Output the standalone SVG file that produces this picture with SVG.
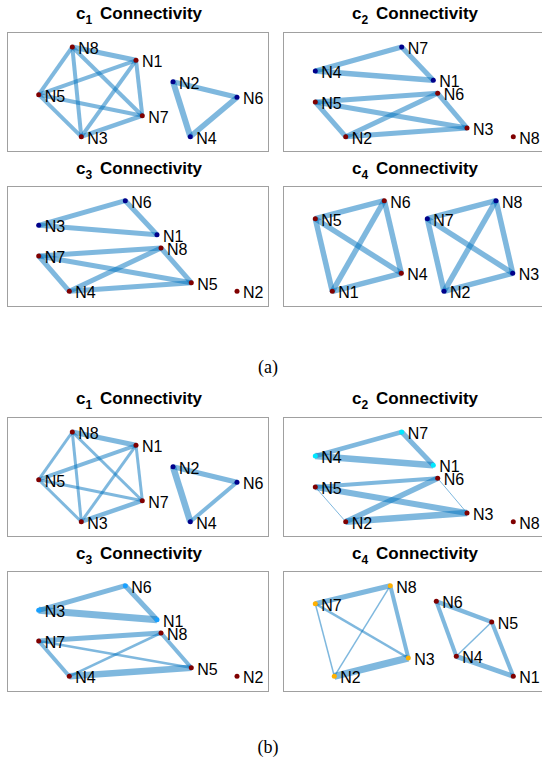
<svg xmlns="http://www.w3.org/2000/svg" width="542" height="767" viewBox="0 0 542 767">
<style>
text{font-family:"Liberation Sans",Arial,sans-serif;fill:#000}
.t{font-size:17px;font-weight:bold}
.s{font-size:12px}
.l{font-size:16px}
.box{fill:#fff;stroke:#a0a0a0;stroke-width:1}
.e{stroke:#0072BD;stroke-opacity:0.5;fill:none}
.r{fill:#800000}.b{fill:#00008a}.c{fill:#00e8ff}.d{fill:#18a0ff}.o{fill:#ffb000}
.cap{font-family:"Liberation Serif","Times New Roman",serif;font-size:18px;text-anchor:middle}
</style>
<rect width="542" height="767" fill="#fff"/>

<!-- ===== (a) c1 ===== -->
<g id="a-c1">
<rect class="box" x="7.5" y="32.5" width="261" height="119"/>
<text class="t" x="76" y="19">c<tspan class="s" dy="5">1</tspan><tspan x="100" dy="-5">Connectivity</tspan></text>
<g id="a-c1-edges">
<line class="e" stroke-width="5" x1="72.3" y1="47" x2="136" y2="60.3"/>
<line class="e" stroke-width="4" x1="72.3" y1="47" x2="38.7" y2="94.7"/>
<line class="e" stroke-width="4" x1="72.3" y1="47" x2="81.3" y2="136.7"/>
<line class="e" stroke-width="4" x1="72.3" y1="47" x2="142.3" y2="115.7"/>
<line class="e" stroke-width="4" x1="136" y1="60.3" x2="38.7" y2="94.7"/>
<line class="e" stroke-width="4" x1="136" y1="60.3" x2="81.3" y2="136.7"/>
<line class="e" stroke-width="4" x1="136" y1="60.3" x2="142.3" y2="115.7"/>
<line class="e" stroke-width="4" x1="38.7" y1="94.7" x2="142.3" y2="115.7"/>
<line class="e" stroke-width="4" x1="38.7" y1="94.7" x2="81.3" y2="136.7"/>
<line class="e" stroke-width="4.5" x1="81.3" y1="136.7" x2="142.3" y2="115.7"/>
<line class="e" stroke-width="6" x1="173" y1="81.7" x2="190.3" y2="136.7"/>
<line class="e" stroke-width="5" x1="173" y1="81.7" x2="237" y2="97.3"/>
<line class="e" stroke-width="5.5" x1="190.3" y1="136.7" x2="237" y2="97.3"/>
</g>
<g id="a-c1-N8"><circle class="r" cx="72.3" cy="47" r="2.5"/><text class="l" x="78.3" y="54">N8</text></g>
<g id="a-c1-N1"><circle class="r" cx="136" cy="60.3" r="2.5"/><text class="l" x="142" y="67.3">N1</text></g>
<g id="a-c1-N5"><circle class="r" cx="38.7" cy="94.7" r="2.5"/><text class="l" x="44.7" y="101.7">N5</text></g>
<g id="a-c1-N7"><circle class="r" cx="142.3" cy="115.7" r="2.5"/><text class="l" x="148.3" y="122.7">N7</text></g>
<g id="a-c1-N3"><circle class="r" cx="81.3" cy="136.7" r="2.5"/><text class="l" x="87.3" y="143.7">N3</text></g>
<g id="a-c1-N2"><circle class="b" cx="173" cy="81.7" r="2.5"/><text class="l" x="179" y="88.7">N2</text></g>
<g id="a-c1-N6"><circle class="b" cx="237" cy="97.3" r="2.5"/><text class="l" x="243" y="104.3">N6</text></g>
<g id="a-c1-N4"><circle class="b" cx="190.3" cy="136.7" r="2.5"/><text class="l" x="196.3" y="143.7">N4</text></g>
</g>

<!-- ===== (a) c2 ===== -->
<g id="a-c2">
<rect class="box" x="283.5" y="32.5" width="280" height="119"/>
<text class="t" x="352" y="19">c<tspan class="s" dy="5">2</tspan><tspan x="376" dy="-5">Connectivity</tspan></text>
<g id="a-c2-edges">
<line class="e" stroke-width="5" x1="401.7" y1="47" x2="315.3" y2="71"/>
<line class="e" stroke-width="5" x1="401.7" y1="47" x2="433.3" y2="80.3"/>
<line class="e" stroke-width="5.5" x1="315.3" y1="71" x2="433.3" y2="80.3"/>
<line class="e" stroke-width="5" x1="315.3" y1="102" x2="437.7" y2="93.3"/>
<line class="e" stroke-width="5" x1="315.3" y1="102" x2="467" y2="128"/>
<line class="e" stroke-width="5" x1="315.3" y1="102" x2="345.7" y2="136.7"/>
<line class="e" stroke-width="5" x1="437.7" y1="93.3" x2="345.7" y2="136.7"/>
<line class="e" stroke-width="5" x1="437.7" y1="93.3" x2="467" y2="128"/>
<line class="e" stroke-width="5" x1="345.7" y1="136.7" x2="467" y2="128"/>
</g>
<g id="a-c2-N7"><circle class="b" cx="401.7" cy="47" r="2.5"/><text class="l" x="407.7" y="54">N7</text></g>
<g id="a-c2-N4"><circle class="b" cx="315.3" cy="71" r="2.5"/><text class="l" x="321.3" y="78">N4</text></g>
<g id="a-c2-N1"><circle class="b" cx="433.3" cy="80.3" r="2.5"/><text class="l" x="439.3" y="87.3">N1</text></g>
<g id="a-c2-N6"><circle class="r" cx="437.7" cy="93.3" r="2.5"/><text class="l" x="443.7" y="100.3">N6</text></g>
<g id="a-c2-N5"><circle class="r" cx="315.3" cy="102" r="2.5"/><text class="l" x="321.3" y="109">N5</text></g>
<g id="a-c2-N3"><circle class="r" cx="467" cy="128" r="2.5"/><text class="l" x="473" y="135">N3</text></g>
<g id="a-c2-N2"><circle class="r" cx="345.7" cy="136.7" r="2.5"/><text class="l" x="351.7" y="143.7">N2</text></g>
<g id="a-c2-N8"><circle class="r" cx="513.3" cy="136.7" r="2.5"/><text class="l" x="519.3" y="143.7">N8</text></g>
</g>

<!-- ===== (a) c3 ===== -->
<g id="a-c3">
<rect class="box" x="7.5" y="186.5" width="261" height="120"/>
<text class="t" x="76" y="173.5">c<tspan class="s" dy="5">3</tspan><tspan x="100" dy="-5">Connectivity</tspan></text>
<g id="a-c3-edges">
<line class="e" stroke-width="5" x1="125.3" y1="200.7" x2="38.7" y2="225.3"/>
<line class="e" stroke-width="5" x1="125.3" y1="200.7" x2="157" y2="234.7"/>
<line class="e" stroke-width="5" x1="38.7" y1="225.3" x2="157" y2="234.7"/>
<line class="e" stroke-width="5" x1="161" y1="248" x2="38.7" y2="256"/>
<line class="e" stroke-width="5" x1="161" y1="248" x2="69.3" y2="291.3"/>
<line class="e" stroke-width="5" x1="161" y1="248" x2="191.3" y2="282.7"/>
<line class="e" stroke-width="5" x1="38.7" y1="256" x2="191.3" y2="282.7"/>
<line class="e" stroke-width="5" x1="38.7" y1="256" x2="69.3" y2="291.3"/>
<line class="e" stroke-width="5" x1="69.3" y1="291.3" x2="191.3" y2="282.7"/>
</g>
<g id="a-c3-N6"><circle class="b" cx="125.3" cy="200.7" r="2.5"/><text class="l" x="131.3" y="207.7">N6</text></g>
<g id="a-c3-N3"><circle class="b" cx="38.7" cy="225.3" r="2.5"/><text class="l" x="44.7" y="232.3">N3</text></g>
<g id="a-c3-N1"><circle class="b" cx="157" cy="234.7" r="2.5"/><text class="l" x="163" y="241.7">N1</text></g>
<g id="a-c3-N8"><circle class="r" cx="161" cy="248" r="2.5"/><text class="l" x="167" y="255">N8</text></g>
<g id="a-c3-N7"><circle class="r" cx="38.7" cy="256" r="2.5"/><text class="l" x="44.7" y="263">N7</text></g>
<g id="a-c3-N5"><circle class="r" cx="191.3" cy="282.7" r="2.5"/><text class="l" x="197.3" y="289.7">N5</text></g>
<g id="a-c3-N4"><circle class="r" cx="69.3" cy="291.3" r="2.5"/><text class="l" x="75.3" y="298.3">N4</text></g>
<g id="a-c3-N2"><circle class="r" cx="237" cy="291.3" r="2.5"/><text class="l" x="243" y="298.3">N2</text></g>
</g>

<!-- ===== (a) c4 ===== -->
<g id="a-c4">
<rect class="box" x="283.5" y="186.5" width="280" height="120"/>
<text class="t" x="352" y="173.5">c<tspan class="s" dy="5">4</tspan><tspan x="376" dy="-5">Connectivity</tspan></text>
<g id="a-c4-edges">
<line class="e" stroke-width="5.5" x1="315.3" y1="218.7" x2="384.3" y2="200.7"/>
<line class="e" stroke-width="5.5" x1="315.3" y1="218.7" x2="401.3" y2="273.3"/>
<line class="e" stroke-width="5.5" x1="315.3" y1="218.7" x2="332.3" y2="291.3"/>
<line class="e" stroke-width="5.5" x1="384.3" y1="200.7" x2="401.3" y2="273.3"/>
<line class="e" stroke-width="5.5" x1="384.3" y1="200.7" x2="332.3" y2="291.3"/>
<line class="e" stroke-width="5.5" x1="401.3" y1="273.3" x2="332.3" y2="291.3"/>
<line class="e" stroke-width="5.5" x1="427.3" y1="218.7" x2="496" y2="200.7"/>
<line class="e" stroke-width="5.5" x1="427.3" y1="218.7" x2="512.7" y2="273.3"/>
<line class="e" stroke-width="5.5" x1="427.3" y1="218.7" x2="444" y2="291.3"/>
<line class="e" stroke-width="5.5" x1="496" y1="200.7" x2="512.7" y2="273.3"/>
<line class="e" stroke-width="5.5" x1="496" y1="200.7" x2="444" y2="291.3"/>
<line class="e" stroke-width="5.5" x1="512.7" y1="273.3" x2="444" y2="291.3"/>
</g>
<g id="a-c4-N6"><circle class="r" cx="384.3" cy="200.7" r="2.5"/><text class="l" x="390.3" y="207.7">N6</text></g>
<g id="a-c4-N5"><circle class="r" cx="315.3" cy="218.7" r="2.5"/><text class="l" x="321.3" y="225.7">N5</text></g>
<g id="a-c4-N4"><circle class="r" cx="401.3" cy="273.3" r="2.5"/><text class="l" x="407.3" y="280.3">N4</text></g>
<g id="a-c4-N1"><circle class="r" cx="332.3" cy="291.3" r="2.5"/><text class="l" x="338.3" y="298.3">N1</text></g>
<g id="a-c4-N8"><circle class="b" cx="496" cy="200.7" r="2.5"/><text class="l" x="502" y="207.7">N8</text></g>
<g id="a-c4-N7"><circle class="b" cx="427.3" cy="218.7" r="2.5"/><text class="l" x="433.3" y="225.7">N7</text></g>
<g id="a-c4-N3"><circle class="b" cx="512.7" cy="273.3" r="2.5"/><text class="l" x="518.7" y="280.3">N3</text></g>
<g id="a-c4-N2"><circle class="b" cx="444" cy="291.3" r="2.5"/><text class="l" x="450" y="298.3">N2</text></g>
</g>

<text class="cap" x="268" y="373">(a)</text>

<!-- ===== (b) ===== -->
<g transform="translate(0,385)">
<g id="b-c1">
<rect class="box" x="7.5" y="32.5" width="261" height="119"/>
<text class="t" x="76" y="19">c<tspan class="s" dy="5">1</tspan><tspan x="100" dy="-5">Connectivity</tspan></text>
<g id="b-c1-edges">
<line class="e" stroke-width="5" x1="72.3" y1="47" x2="136" y2="60.3"/>
<line class="e" stroke-width="3" x1="72.3" y1="47" x2="38.7" y2="94.7"/>
<line class="e" stroke-width="3" x1="72.3" y1="47" x2="81.3" y2="136.7"/>
<line class="e" stroke-width="3" x1="72.3" y1="47" x2="142.3" y2="115.7"/>
<line class="e" stroke-width="4" x1="136" y1="60.3" x2="38.7" y2="94.7"/>
<line class="e" stroke-width="3" x1="136" y1="60.3" x2="81.3" y2="136.7"/>
<line class="e" stroke-width="3" x1="136" y1="60.3" x2="142.3" y2="115.7"/>
<line class="e" stroke-width="3" x1="38.7" y1="94.7" x2="142.3" y2="115.7"/>
<line class="e" stroke-width="3" x1="38.7" y1="94.7" x2="81.3" y2="136.7"/>
<line class="e" stroke-width="4.5" x1="81.3" y1="136.7" x2="142.3" y2="115.7"/>
<line class="e" stroke-width="6.5" x1="173" y1="81.7" x2="190.3" y2="136.7"/>
<line class="e" stroke-width="5" x1="173" y1="81.7" x2="237" y2="97.3"/>
<line class="e" stroke-width="4" x1="190.3" y1="136.7" x2="237" y2="97.3"/>
</g>
<g id="b-c1-N8"><circle class="r" cx="72.3" cy="47" r="2.5"/><text class="l" x="78.3" y="54">N8</text></g>
<g id="b-c1-N1"><circle class="r" cx="136" cy="60.3" r="2.5"/><text class="l" x="142" y="67.3">N1</text></g>
<g id="b-c1-N5"><circle class="r" cx="38.7" cy="94.7" r="2.5"/><text class="l" x="44.7" y="101.7">N5</text></g>
<g id="b-c1-N7"><circle class="r" cx="142.3" cy="115.7" r="2.5"/><text class="l" x="148.3" y="122.7">N7</text></g>
<g id="b-c1-N3"><circle class="r" cx="81.3" cy="136.7" r="2.5"/><text class="l" x="87.3" y="143.7">N3</text></g>
<g id="b-c1-N2"><circle class="b" cx="173" cy="81.7" r="2.5"/><text class="l" x="179" y="88.7">N2</text></g>
<g id="b-c1-N6"><circle class="b" cx="237" cy="97.3" r="2.5"/><text class="l" x="243" y="104.3">N6</text></g>
<g id="b-c1-N4"><circle class="b" cx="190.3" cy="136.7" r="2.5"/><text class="l" x="196.3" y="143.7">N4</text></g>
</g>

<g id="b-c2">
<rect class="box" x="283.5" y="32.5" width="280" height="119"/>
<text class="t" x="352" y="19">c<tspan class="s" dy="5">2</tspan><tspan x="376" dy="-5">Connectivity</tspan></text>
<g id="b-c2-edges">
<line class="e" stroke-width="4.5" x1="401.7" y1="47" x2="315.3" y2="71"/>
<line class="e" stroke-width="5" x1="401.7" y1="47" x2="433.3" y2="80.3"/>
<line class="e" stroke-width="6.5" x1="315.3" y1="71" x2="433.3" y2="80.3"/>
<line class="e" stroke-width="4" x1="315.3" y1="102" x2="437.7" y2="93.3"/>
<line class="e" stroke-width="6" x1="315.3" y1="102" x2="467" y2="128"/>
<line class="e" stroke-width="1" x1="315.3" y1="102" x2="345.7" y2="136.7"/>
<line class="e" stroke-width="5.5" x1="437.7" y1="93.3" x2="345.7" y2="136.7"/>
<line class="e" stroke-width="1" x1="437.7" y1="93.3" x2="467" y2="128"/>
<line class="e" stroke-width="6.5" x1="345.7" y1="136.7" x2="467" y2="128"/>
</g>
<g id="b-c2-N7"><circle class="c" cx="401.7" cy="47" r="2.5"/><text class="l" x="407.7" y="54">N7</text></g>
<g id="b-c2-N4"><circle class="c" cx="315.3" cy="71" r="2.5"/><text class="l" x="321.3" y="78">N4</text></g>
<g id="b-c2-N1"><circle class="c" cx="433.3" cy="80.3" r="2.5"/><text class="l" x="439.3" y="87.3">N1</text></g>
<g id="b-c2-N6"><circle class="r" cx="437.7" cy="93.3" r="2.5"/><text class="l" x="443.7" y="100.3">N6</text></g>
<g id="b-c2-N5"><circle class="r" cx="315.3" cy="102" r="2.5"/><text class="l" x="321.3" y="109">N5</text></g>
<g id="b-c2-N3"><circle class="r" cx="467" cy="128" r="2.5"/><text class="l" x="473" y="135">N3</text></g>
<g id="b-c2-N2"><circle class="r" cx="345.7" cy="136.7" r="2.5"/><text class="l" x="351.7" y="143.7">N2</text></g>
<g id="b-c2-N8"><circle class="r" cx="513.3" cy="136.7" r="2.5"/><text class="l" x="519.3" y="143.7">N8</text></g>
</g>

<g id="b-c3">
<rect class="box" x="7.5" y="186.5" width="261" height="120"/>
<text class="t" x="76" y="173.5">c<tspan class="s" dy="5">3</tspan><tspan x="100" dy="-5">Connectivity</tspan></text>
<g id="b-c3-edges">
<line class="e" stroke-width="5" x1="125.3" y1="200.7" x2="38.7" y2="225.3"/>
<line class="e" stroke-width="5" x1="125.3" y1="200.7" x2="157" y2="234.7"/>
<line class="e" stroke-width="7" x1="38.7" y1="225.3" x2="157" y2="234.7"/>
<line class="e" stroke-width="5" x1="161" y1="248" x2="38.7" y2="256"/>
<line class="e" stroke-width="2.5" x1="161" y1="248" x2="69.3" y2="291.3"/>
<line class="e" stroke-width="4" x1="161" y1="248" x2="191.3" y2="282.7"/>
<line class="e" stroke-width="2.5" x1="38.7" y1="256" x2="191.3" y2="282.7"/>
<line class="e" stroke-width="4" x1="38.7" y1="256" x2="69.3" y2="291.3"/>
<line class="e" stroke-width="6.5" x1="69.3" y1="291.3" x2="191.3" y2="282.7"/>
</g>
<g id="b-c3-N6"><circle class="d" cx="125.3" cy="200.7" r="2.5"/><text class="l" x="131.3" y="207.7">N6</text></g>
<g id="b-c3-N3"><circle class="d" cx="38.7" cy="225.3" r="2.5"/><text class="l" x="44.7" y="232.3">N3</text></g>
<g id="b-c3-N1"><circle class="d" cx="157" cy="234.7" r="2.5"/><text class="l" x="163" y="241.7">N1</text></g>
<g id="b-c3-N8"><circle class="r" cx="161" cy="248" r="2.5"/><text class="l" x="167" y="255">N8</text></g>
<g id="b-c3-N7"><circle class="r" cx="38.7" cy="256" r="2.5"/><text class="l" x="44.7" y="263">N7</text></g>
<g id="b-c3-N5"><circle class="r" cx="191.3" cy="282.7" r="2.5"/><text class="l" x="197.3" y="289.7">N5</text></g>
<g id="b-c3-N4"><circle class="r" cx="69.3" cy="291.3" r="2.5"/><text class="l" x="75.3" y="298.3">N4</text></g>
<g id="b-c3-N2"><circle class="r" cx="237" cy="291.3" r="2.5"/><text class="l" x="243" y="298.3">N2</text></g>
</g>

<g id="b-c4">
<rect class="box" x="283.5" y="186.5" width="280" height="120"/>
<text class="t" x="352" y="173.5">c<tspan class="s" dy="5">4</tspan><tspan x="376" dy="-5">Connectivity</tspan></text>
<g id="b-c4-edges">
<line class="e" stroke-width="5" x1="315.3" y1="218.7" x2="390.3" y2="200.7"/>
<line class="e" stroke-width="4" x1="390.3" y1="200.7" x2="408.3" y2="273"/>
<line class="e" stroke-width="1.5" x1="390.3" y1="200.7" x2="334.3" y2="291.3"/>
<line class="e" stroke-width="2.5" x1="315.3" y1="218.7" x2="408.3" y2="273"/>
<line class="e" stroke-width="1.5" x1="315.3" y1="218.7" x2="334.3" y2="291.3"/>
<line class="e" stroke-width="7" x1="334.3" y1="291.3" x2="408.3" y2="273"/>
<line class="e" stroke-width="4.5" x1="436.3" y1="216.3" x2="491.7" y2="237"/>
<line class="e" stroke-width="4" x1="436.3" y1="216.3" x2="456.3" y2="271.3"/>
<line class="e" stroke-width="1.5" x1="491.7" y1="237" x2="456.3" y2="271.3"/>
<line class="e" stroke-width="4" x1="491.7" y1="237" x2="513.3" y2="291.3"/>
<line class="e" stroke-width="5" x1="456.3" y1="271.3" x2="513.3" y2="291.3"/>
</g>
<g id="b-c4-N8"><circle class="o" cx="390.3" cy="200.7" r="2.5"/><text class="l" x="396.3" y="207.7">N8</text></g>
<g id="b-c4-N7"><circle class="o" cx="315.3" cy="218.7" r="2.5"/><text class="l" x="321.3" y="225.7">N7</text></g>
<g id="b-c4-N3"><circle class="o" cx="408.3" cy="273" r="2.5"/><text class="l" x="414.3" y="280">N3</text></g>
<g id="b-c4-N2"><circle class="o" cx="334.3" cy="291.3" r="2.5"/><text class="l" x="340.3" y="298.3">N2</text></g>
<g id="b-c4-N6"><circle class="r" cx="436.3" cy="216.3" r="2.5"/><text class="l" x="442.3" y="223.3">N6</text></g>
<g id="b-c4-N5"><circle class="r" cx="491.7" cy="237" r="2.5"/><text class="l" x="497.7" y="244">N5</text></g>
<g id="b-c4-N4"><circle class="r" cx="456.3" cy="271.3" r="2.5"/><text class="l" x="462.3" y="278.3">N4</text></g>
<g id="b-c4-N1"><circle class="r" cx="513.3" cy="291.3" r="2.5"/><text class="l" x="519.3" y="298.3">N1</text></g>
</g>
</g>

<text class="cap" x="268" y="753">(b)</text>
</svg>
